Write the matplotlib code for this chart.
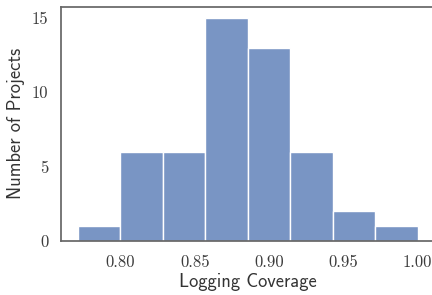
import matplotlib
matplotlib.use("Agg")
import matplotlib.pyplot as plt

# histogram (8 bins, 50 projects)
bin_edges = [0.7714, 0.8000, 0.8286, 0.8571, 0.8857, 0.9143, 0.9429, 0.9714, 1.0000]
counts = [1, 6, 6, 15, 13, 6, 2, 1]
x_ticks = [0.80, 0.85, 0.90, 0.95, 1.00]
y_ticks = [0, 5, 10, 15]

bar_color = "#7995c4"
spine_color = "#666666"

fig = plt.figure(figsize=(4.32, 2.95), dpi=100)
ax = fig.add_axes([0.1412, 0.1831, 0.8648, 0.7942])

lefts = bin_edges[:-1]
widths = [b - a for a, b in zip(bin_edges[:-1], bin_edges[1:])]
ax.bar(lefts, counts, width=widths, align="edge", color=bar_color,
       edgecolor="white", linewidth=1.0)

span = bin_edges[-1] - bin_edges[0]
ax.set_xlim(bin_edges[0] - 0.05 * span, bin_edges[-1] + 0.05 * span)
ax.set_ylim(0, max(counts) * 1.05)

for s in ax.spines.values():
    s.set_color(spine_color)
    s.set_linewidth(1.25)

ax.set_xticks(x_ticks, ["%.2f" % t for t in x_ticks], fontfamily="cmr10", fontsize=12, color="#3c3c3c")
ax.set_yticks(y_ticks, [str(t) for t in y_ticks], fontfamily="cmr10", fontsize=12, color="#3c3c3c")
ax.tick_params(axis="x", length=0, pad=10)
ax.tick_params(axis="y", length=0, pad=9)

ax.set_xlabel("Logging Coverage", fontfamily="cmss10", fontsize=13.3, color="#333333", labelpad=2)
ax.set_ylabel("Number of Projects", fontfamily="cmss10", fontsize=13.3, color="#333333", labelpad=5)

fig.savefig("out.png", dpi=100)
